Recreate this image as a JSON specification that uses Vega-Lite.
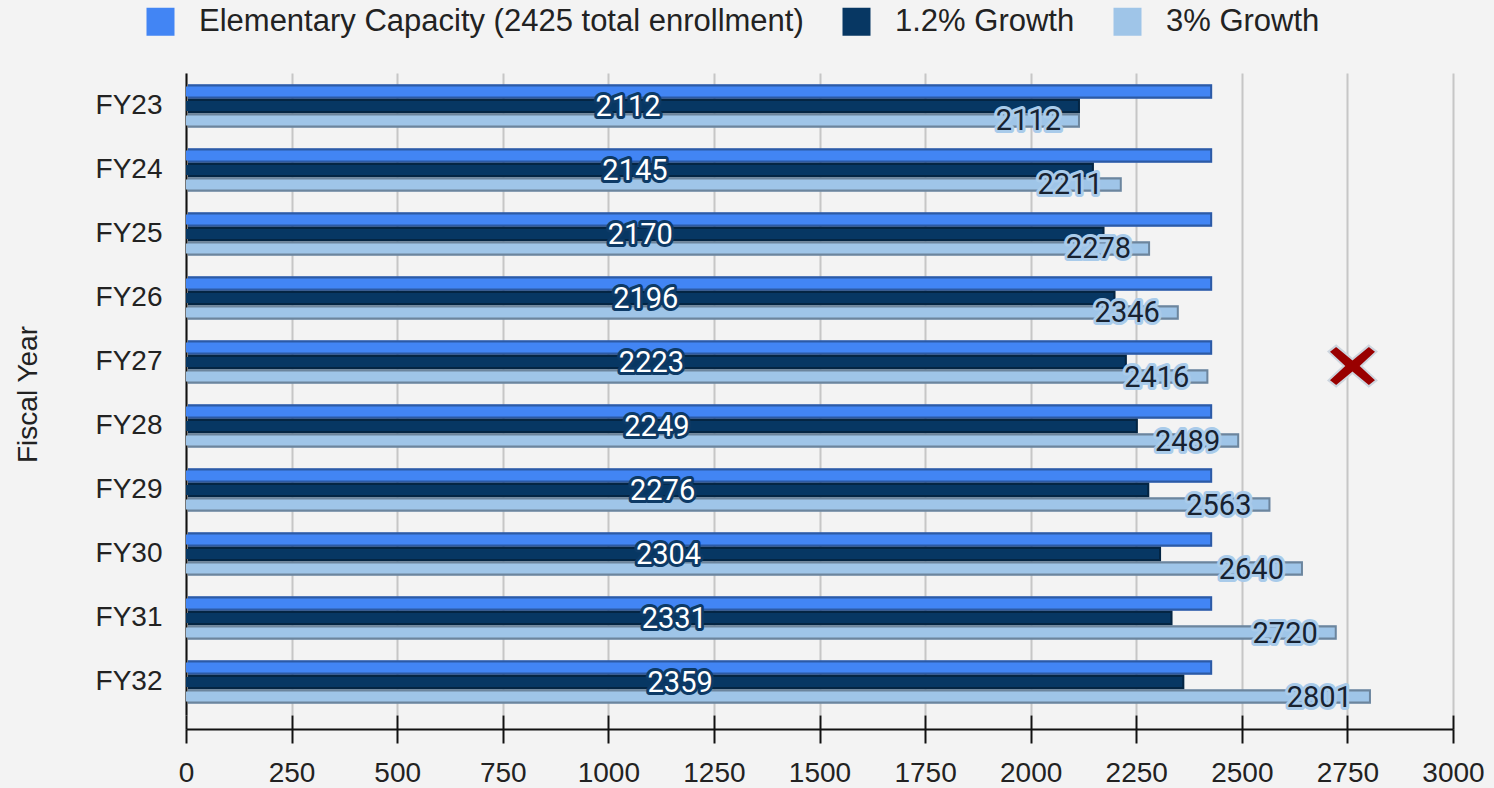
{
  "$schema": "https://vega.github.io/schema/vega-lite/v6.json",
  "width": 1267,
  "height": 642,
  "autosize": {"type": "none"},
  "padding": {"left": 186, "top": 73, "right": 41, "bottom": 73},
  "background": "#f3f3f3",
  "config": {"view": {"stroke": null}, "font": "Liberation Sans"},
  "datasets": {
    "bars": [
      {"fy": "FY23", "series": "Elementary Capacity (2425 total enrollment)", "value": 2425},
      {"fy": "FY23", "series": "1.2% Growth", "value": 2112},
      {"fy": "FY23", "series": "3% Growth", "value": 2112},
      {"fy": "FY24", "series": "Elementary Capacity (2425 total enrollment)", "value": 2425},
      {"fy": "FY24", "series": "1.2% Growth", "value": 2145},
      {"fy": "FY24", "series": "3% Growth", "value": 2211},
      {"fy": "FY25", "series": "Elementary Capacity (2425 total enrollment)", "value": 2425},
      {"fy": "FY25", "series": "1.2% Growth", "value": 2170},
      {"fy": "FY25", "series": "3% Growth", "value": 2278},
      {"fy": "FY26", "series": "Elementary Capacity (2425 total enrollment)", "value": 2425},
      {"fy": "FY26", "series": "1.2% Growth", "value": 2196},
      {"fy": "FY26", "series": "3% Growth", "value": 2346},
      {"fy": "FY27", "series": "Elementary Capacity (2425 total enrollment)", "value": 2425},
      {"fy": "FY27", "series": "1.2% Growth", "value": 2223},
      {"fy": "FY27", "series": "3% Growth", "value": 2416},
      {"fy": "FY28", "series": "Elementary Capacity (2425 total enrollment)", "value": 2425},
      {"fy": "FY28", "series": "1.2% Growth", "value": 2249},
      {"fy": "FY28", "series": "3% Growth", "value": 2489},
      {"fy": "FY29", "series": "Elementary Capacity (2425 total enrollment)", "value": 2425},
      {"fy": "FY29", "series": "1.2% Growth", "value": 2276},
      {"fy": "FY29", "series": "3% Growth", "value": 2563},
      {"fy": "FY30", "series": "Elementary Capacity (2425 total enrollment)", "value": 2425},
      {"fy": "FY30", "series": "1.2% Growth", "value": 2304},
      {"fy": "FY30", "series": "3% Growth", "value": 2640},
      {"fy": "FY31", "series": "Elementary Capacity (2425 total enrollment)", "value": 2425},
      {"fy": "FY31", "series": "1.2% Growth", "value": 2331},
      {"fy": "FY31", "series": "3% Growth", "value": 2720},
      {"fy": "FY32", "series": "Elementary Capacity (2425 total enrollment)", "value": 2425},
      {"fy": "FY32", "series": "1.2% Growth", "value": 2359},
      {"fy": "FY32", "series": "3% Growth", "value": 2801}
    ],
    "marker": [
      {"fy": "FY27", "value": 2762}
    ]
  },
  "data": {"name": "bars"},
  "encoding": {
    "y": {
      "field": "fy",
      "type": "nominal",
      "title": "Fiscal Year",
      "scale": {"paddingInner": 0.32, "paddingOuter": 0.175},
      "axis": {
        "domain": true,
        "domainColor": "#111111",
        "domainWidth": 2,
        "ticks": false,
        "tickSize": 0,
        "grid": false,
        "labelPadding": 24,
        "labelFont": "Liberation Sans",
        "labelFontSize": 28,
        "labelColor": "#222222",
        "titleFont": "Liberation Sans",
        "titleFontSize": 28,
        "titleFontWeight": "normal",
        "titleColor": "#222222",
        "titlePadding": 53
      }
    }
  },
  "layer": [
    {
      "mark": {"type": "bar", "yOffset": 3, "xOffset": 2},
      "encoding": {
        "x": {
          "field": "value",
          "type": "quantitative",
          "scale": {"domain": [0, 3000], "nice": false},
          "axis": {
            "orient": "bottom",
            "offset": 14,
            "values": [0, 250, 500, 750, 1000, 1250, 1500, 1750, 2000, 2250, 2500, 2750, 3000],
            "title": null,
            "tickSize": -14,
            "tickWidth": 2,
            "tickColor": "#111111",
            "domain": false,
            "labels": false,
            "grid": false
          }
        },
        "yOffset": {
          "field": "series",
          "type": "nominal",
          "sort": ["Elementary Capacity (2425 total enrollment)", "1.2% Growth", "3% Growth"],
          "scale": {"paddingInner": 0, "paddingOuter": 0}
        },
        "color": {
          "field": "series",
          "type": "nominal",
          "scale": {
            "domain": ["Elementary Capacity (2425 total enrollment)", "1.2% Growth", "3% Growth"],
            "range": ["#4285f4", "#073763", "#9fc5e8"]
          }
        }
      }
    },
    {
      "mark": {"type": "bar", "yOffset": 3, "xOffset": 2, "color": "#000000", "opacity": 0.32},
      "encoding": {
        "x": {"field": "value", "type": "quantitative", "scale": {"domain": [0, 3000], "nice": false}, "axis": null},
        "yOffset": {
          "field": "series",
          "type": "nominal",
          "sort": ["Elementary Capacity (2425 total enrollment)", "1.2% Growth", "3% Growth"]
        }
      }
    },
    {
      "mark": {"type": "bar", "height": 10, "yOffset": 1},
      "encoding": {
        "x": {
          "field": "value",
          "type": "quantitative",
          "scale": {"domain": [0, 3000], "nice": false},
          "axis": {
            "orient": "bottom",
            "offset": 14,
            "values": [0, 250, 500, 750, 1000, 1250, 1500, 1750, 2000, 2250, 2500, 2750, 3000],
            "title": null,
            "format": "d",
            "tickSize": 14,
            "tickWidth": 2,
            "tickColor": "#111111",
            "domainColor": "#111111",
            "domainWidth": 2,
            "grid": true,
            "gridColor": "#c6c6c6",
            "gridWidth": 2,
            "labelFont": "Liberation Sans",
            "labelFontSize": 28,
            "labelColor": "#222222",
            "labelPadding": 16,
            "labelFlush": false,
            "labelOverlap": false
          }
        },
        "yOffset": {
          "field": "series",
          "type": "nominal",
          "sort": ["Elementary Capacity (2425 total enrollment)", "1.2% Growth", "3% Growth"]
        },
        "color": {
          "field": "series",
          "type": "nominal",
          "scale": {
            "domain": ["Elementary Capacity (2425 total enrollment)", "1.2% Growth", "3% Growth"],
            "range": ["#4285f4", "#073763", "#9fc5e8"]
          },
          "legend": {
            "orient": "none",
            "legendX": -41,
            "legendY": -67,
            "direction": "horizontal",
            "title": null,
            "padding": 0,
            "symbolType": "square",
            "symbolSize": 784,
            "symbolStrokeWidth": 0,
            "symbolOpacity": 1,
            "labelFont": "Liberation Sans",
            "labelFontSize": 31,
            "labelColor": "#222222",
            "labelOffset": 23,
            "labelLimit": 1000,
            "columnPadding": 37
          }
        }
      }
    },
    {
      "transform": [{"filter": {"field": "series", "equal": "1.2% Growth"}}],
      "mark": {"type": "text", "font": "Roboto", "fontSize": 29, "align": "center", "baseline": "middle", "dx": -4, "dy": 1, "fill": "#0d3a66", "stroke": "#0d3a66", "strokeWidth": 6, "strokeJoin": "round"},
      "encoding": {
        "x": {"field": "value", "type": "quantitative", "scale": {"domain": [0, 6000], "nice": false}, "axis": null},
        "yOffset": {"field": "series", "type": "nominal", "sort": ["Elementary Capacity (2425 total enrollment)", "1.2% Growth", "3% Growth"]},
        "text": {"field": "value", "type": "quantitative", "format": "d"}
      }
    },
    {
      "transform": [{"filter": {"field": "series", "equal": "1.2% Growth"}}],
      "mark": {"type": "text", "font": "Roboto", "fontSize": 29, "align": "center", "baseline": "middle", "dx": -4, "dy": 1, "fill": "#ffffff"},
      "encoding": {
        "x": {"field": "value", "type": "quantitative", "scale": {"domain": [0, 6000], "nice": false}, "axis": null},
        "yOffset": {"field": "series", "type": "nominal", "sort": ["Elementary Capacity (2425 total enrollment)", "1.2% Growth", "3% Growth"]},
        "text": {"field": "value", "type": "quantitative", "format": "d"}
      }
    },
    {
      "transform": [{"filter": {"field": "series", "equal": "3% Growth"}}],
      "mark": {"type": "text", "font": "Roboto", "fontSize": 29, "align": "right", "baseline": "middle", "dx": -17, "dy": 1, "fill": "#a9cbea", "stroke": "#a9cbea", "strokeWidth": 6, "strokeJoin": "round"},
      "encoding": {
        "x": {"field": "value", "type": "quantitative", "scale": {"domain": [0, 3000], "nice": false}, "axis": null},
        "yOffset": {"field": "series", "type": "nominal", "sort": ["Elementary Capacity (2425 total enrollment)", "1.2% Growth", "3% Growth"]},
        "text": {"field": "value", "type": "quantitative", "format": "d"}
      }
    },
    {
      "transform": [{"filter": {"field": "series", "equal": "3% Growth"}}],
      "mark": {"type": "text", "font": "Roboto", "fontSize": 29, "align": "right", "baseline": "middle", "dx": -17, "dy": 1, "fill": "#172231"},
      "encoding": {
        "x": {"field": "value", "type": "quantitative", "scale": {"domain": [0, 3000], "nice": false}, "axis": null},
        "yOffset": {"field": "series", "type": "nominal", "sort": ["Elementary Capacity (2425 total enrollment)", "1.2% Growth", "3% Growth"]},
        "text": {"field": "value", "type": "quantitative", "format": "d"}
      }
    },
    {
      "data": {"name": "marker"},
      "mark": {
        "type": "point",
        "shape": "M -1 -0.6 L -0.68 -0.85 L 0 -0.28 L 0.68 -0.85 L 1 -0.6 L 0.36 0 L 1 0.6 L 0.68 0.85 L 0 0.28 L -0.68 0.85 L -1 0.6 L -0.36 0 Z",
        "filled": true,
        "fill": "#990000",
        "stroke": "#cdd5de",
        "strokeWidth": 2,
        "opacity": 1,
        "fillOpacity": 1,
        "size": 2300,
        "yOffset": 4
      },
      "encoding": {
        "x": {"field": "value", "type": "quantitative", "scale": {"domain": [0, 3000], "nice": false}, "axis": null}
      }
    }
  ],
  "resolve": {"scale": {"x": "independent"}, "axis": {"x": "independent"}}
}
